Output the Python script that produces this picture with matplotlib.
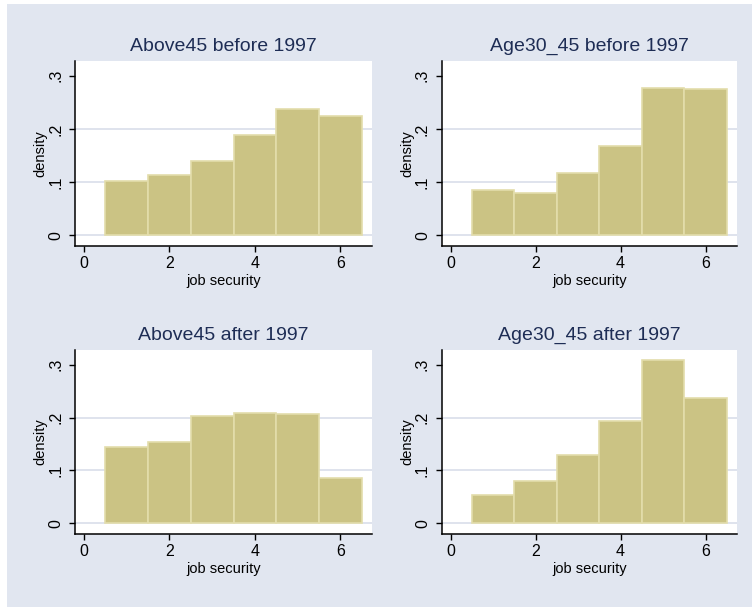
import numpy as np
import matplotlib
matplotlib.use('Agg')
import matplotlib.pyplot as plt
from matplotlib.patches import Rectangle

plt.rcParams['font.family'] = ['Liberation Sans', 'DejaVu Sans']

# bin centres and densities
bins = [1, 2, 3, 4, 5, 6]
above45_before = [0.102, 0.114, 0.140, 0.1885, 0.237, 0.224]
age30_45_before = [0.086, 0.080, 0.1175, 0.1675, 0.277, 0.274]
above45_after = [0.144, 0.153, 0.2025, 0.209, 0.207, 0.086]
age30_45_after = [0.053, 0.080, 0.129, 0.194, 0.308, 0.2375]

titles = ['Above45 before 1997', 'Age30_45 before 1997',
          'Above45 after 1997', 'Age30_45 after 1997']
series = [above45_before, age30_45_before, above45_after, age30_45_after]

yticks = [0, 0.1, 0.2, 0.3]
ytick_labels = ['0', '.1', '.2', '.3']
xticks = [0, 2, 4, 6]

bg = '#E1E6F0'
bar_face = '#CBC384'
bar_edge = '#E3DDAB'
grid_col = '#DCE1EC'
title_col = '#1E2D55'

W, H = 752, 607
fig = plt.figure(figsize=(W / 100, H / 100), dpi=100)
fig.patches.append(Rectangle((7 / W, 0), 1, 1 - 4 / H, transform=fig.transFigure,
                             facecolor=bg, edgecolor='none', zorder=-10))

# axes boxes in pixels: left, top, right, bottom
boxes = [(75, 61, 372, 246), (441.7, 61, 737, 246),
         (75, 350, 372, 534), (441.7, 350, 737, 534)]

for (l, t, r, b), title, vals in zip(boxes, titles, series):
    ax = fig.add_axes([l / W, 1 - b / H, (r - l) / W, (b - t) / H])
    ax.set_facecolor('white')
    for yv in [0, 0.1, 0.2]:
        ax.axhline(yv, color=grid_col, lw=1.3, zorder=0)
    ax.bar(bins, vals, width=1.0, color=bar_face, edgecolor=bar_edge, linewidth=1.2, zorder=2)
    ax.set_xlim(-0.21, 6.74)
    ax.set_ylim(-0.020, 0.3275)
    ax.set_xticks(xticks)
    ax.set_yticks(yticks)
    ax.set_yticklabels(ytick_labels, rotation=90, va='center')
    ax.tick_params(axis='both', direction='out', length=4.5, width=1, labelsize=11.5, colors='black')
    ax.tick_params(axis='x', pad=3)
    ax.tick_params(axis='y', pad=4)
    for s in ['top', 'right']:
        ax.spines[s].set_visible(False)
    for s in ['left', 'bottom']:
        ax.spines[s].set_linewidth(1.1)
    ax.set_xlabel('job security', fontsize=10.5, labelpad=2)
    ax.set_ylabel('density', fontsize=10.5, labelpad=0.5)
    ax.set_title(title, fontsize=14, color=title_col, pad=7)

fig.savefig('out.png', dpi=100)
